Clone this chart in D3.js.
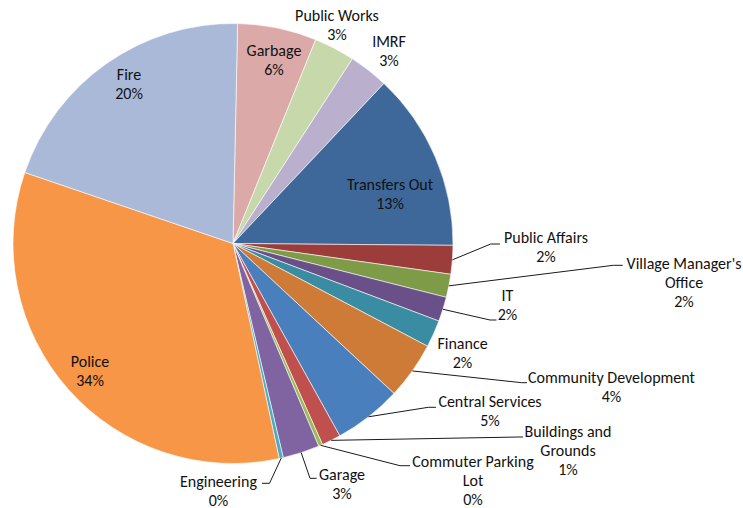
<!DOCTYPE html>
<html>
<head>
<meta charset="utf-8">
<script src="https://cdn.jsdelivr.net/npm/d3@7"></script>
<style>
  html, body { margin: 0; padding: 0; background: #fff; }
  svg text { font-family: Carlito, Calibri, Lato, "Open Sans", sans-serif; fill: #111; }
</style>
</head>
<body>
<svg id="chart" width="743" height="508"></svg>
<script>
// Expenditure share by department (percent of total), clockwise from 12 o'clock
const departments = [
  "Garbage", "Public Works", "IMRF", "Transfers Out", "Public Affairs",
  "Village Manager's Office", "IT", "Finance", "Community Development",
  "Central Services", "Buildings and Grounds", "Commuter Parking Lot",
  "Garage", "Engineering", "Police", "Fire"
];
const shares = [5.8, 3.0, 2.9, 13.1, 2.1, 1.7, 1.8, 2.0, 4.2, 5.0, 1.4, 0.3, 2.7, 0.3, 33.6, 20.1];
const sliceColors = [
  "#dba9a8", "#c7d8aa", "#bab0cd", "#3e6899", "#9d3d3b",
  "#7e9b47", "#6a5089", "#3a8ca3", "#cf7b38",
  "#4a7fbe", "#c0504d", "#9bbb59",
  "#8064a2", "#4bacc6", "#f79646", "#a9b9d7"
];
// Category names broken into label lines
const labelLines = {
  "Village Manager's Office": ["Village Manager's", "Office"],
  "Buildings and Grounds": ["Buildings and", "Grounds"],
  "Commuter Parking Lot": ["Commuter Parking", "Lot"]
};

// Label placement: centre x, first baseline y, optional leader elbow/end
const labelLayout = {
  "Garbage":                  { x: 274, y: 56 },
  "Public Works":             { x: 337, y: 21 },
  "IMRF":                     { x: 389, y: 46.5 },
  "Transfers Out":            { x: 390, y: 190 },
  "Public Affairs":           { x: 546, y: 243, elbow: [490.7, 244], end: [500, 244] },
  "Village Manager's Office": { x: 684, y: 269, elbow: [613.3, 265.3], end: [622.7, 265.3] },
  "IT":                       { x: 507.5, y: 301, elbow: [490, 320], end: [496.5, 320] },
  "Finance":                  { x: 462.5, y: 349 },
  "Community Development":    { x: 611.5, y: 383.3, elbow: [521.7, 382.7], end: [527, 382.7] },
  "Central Services":         { x: 490, y: 407.3, elbow: [428.3, 407.3], end: [436, 407.3] },
  "Buildings and Grounds":    { x: 568, y: 436.7, elbow: [519, 437], end: [523, 437] },
  "Commuter Parking Lot":     { x: 473, y: 467.3, elbow: [400, 465.7], end: [410, 465.7] },
  "Garage":                   { x: 342, y: 480, elbow: [310, 478.3], end: [316.7, 478.3] },
  "Engineering":              { x: 218.5, y: 486.5, elbow: [269.5, 483.3], end: [262, 483.3] },
  "Police":                   { x: 90, y: 366.5 },
  "Fire":                     { x: 129, y: 80 }
};

const cx = 233, cy = 243.5, radius = 220;
const lineGap = 19;
const startAngle = 1.2 * Math.PI / 180;

const svg = d3.select("#chart");
const g = svg.append("g").attr("transform", `translate(${cx},${cy})`);

const data = departments.map((name, i) => ({ name, value: shares[i], color: sliceColors[i] }));
const total = d3.sum(data, d => d.value);

const pie = d3.pie()
  .value(d => d.value)
  .sort(null)
  .startAngle(startAngle)
  .endAngle(startAngle + 2 * Math.PI);

const arc = d3.arc().innerRadius(0).outerRadius(radius);
const arcs = pie(data);

g.selectAll("path.slice")
  .data(arcs)
  .join("path")
  .attr("class", "slice")
  .attr("d", arc)
  .attr("fill", d => d.data.color)
  .attr("stroke", "#ffffff")
  .attr("stroke-width", 0.6)
  .attr("stroke-linejoin", "round");

// Leader lines from the slice rim to the outside labels
const leaders = svg.append("g");
arcs.forEach(a => {
  const L = labelLayout[a.data.name];
  if (!L.elbow) return;
  const mid = (a.startAngle + a.endAngle) / 2;
  const sx = cx + radius * Math.sin(mid);
  const sy = cy - radius * Math.cos(mid);
  leaders.append("polyline")
    .attr("points", [[sx, sy], L.elbow, L.end].map(p => p.join(",")).join(" "))
    .attr("fill", "none")
    .attr("stroke", "#1a1a1a")
    .attr("stroke-width", 1);
});

// Category name and rounded percentage
const labels = svg.append("g");
arcs.forEach(a => {
  const name = a.data.name;
  const L = labelLayout[name];
  const lines = (labelLines[name] || [name]).concat([Math.round(a.data.value / total * 100) + "%"]);
  const t = labels.append("text")
    .attr("text-anchor", "middle")
    .attr("font-size", 16);
  lines.forEach((s, k) => {
    t.append("tspan").attr("x", L.x).attr("y", L.y + k * lineGap).text(s);
  });
});
</script>
</body>
</html>
